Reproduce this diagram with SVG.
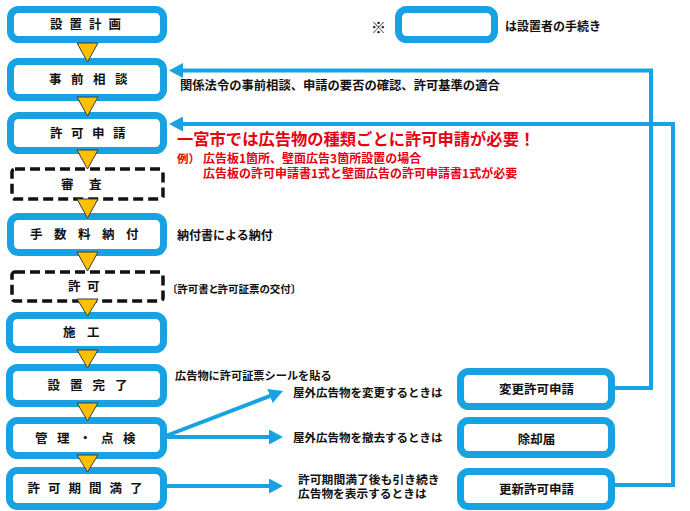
<svg xmlns="http://www.w3.org/2000/svg" width="690" height="511" viewBox="0 0 690 511">
<defs>
<style>
.box{fill:#fff;stroke:#17A2E3;stroke-width:7}
.dash{fill:#fff;stroke:#111;stroke-width:3.5;stroke-dasharray:10 5}
.tri{fill:#FFC000;stroke:#3a3a3a;stroke-width:1}
.ln{fill:none;stroke:#17A2E3;stroke-width:4}
.lbl{font-family:"Noto Sans CJK JP","Noto Sans",sans-serif;font-weight:bold;font-size:12.5px;fill:#111;text-anchor:middle}
.t{font-family:"Noto Sans CJK JP","Noto Sans",sans-serif;font-weight:bold;fill:#111}
.red{font-family:"Noto Sans CJK JP","Noto Sans",sans-serif;font-weight:bold;fill:#E60012}
.palt{font-feature-settings:"palt" 1}
</style>
<marker id="ah" markerUnits="userSpaceOnUse" markerWidth="14" markerHeight="15" refX="1" refY="7.5" orient="auto">
<path d="M0,0 L14,7.5 L0,15 z" fill="#17A2E3"/>
</marker>
</defs>

<g id="connectors">
<path class="ln" d="M612,388 H651 V70.5 H182" marker-end="url(#ah)"/>
<path class="ln" d="M612,485 H673 V124 H182" marker-end="url(#ah)"/>
<path class="ln" d="M163,437 L270.9,395.7" marker-end="url(#ah)"/>
<path class="ln" d="M163,437 H270" marker-end="url(#ah)"/>
<path class="ln" d="M163,486 H270" marker-end="url(#ah)"/>
</g>

<g id="legend">
<text class="t" x="371" y="33" font-size="15">※</text>
<rect class="box" x="398.5" y="9.5" width="96" height="30" rx="8"/>
<text class="t" x="505" y="30.5" font-size="12">は設置者の手続き</text>
</g>

<g id="n1"><rect class="box" x="10.5" y="9.5" width="153" height="30" rx="8"/><text class="lbl" x="89" y="29" letter-spacing="7">設置計画</text></g>
<g id="n2"><rect class="box" x="10.5" y="61.5" width="153" height="36" rx="8"/><text class="lbl" x="93" y="84" letter-spacing="9.5">事前相談</text></g>
<g id="n3"><rect class="box" x="10.5" y="115.5" width="153" height="35" rx="8"/><text class="lbl" x="92" y="137.5" letter-spacing="8.5">許可申請</text></g>
<g id="n4"><rect class="dash" x="12" y="169" width="151" height="30" rx="3"/><text class="lbl" x="89" y="188.5" letter-spacing="15.5">審査</text></g>
<g id="n5"><rect class="box" x="10.5" y="216.5" width="153" height="36" rx="8"/><text class="lbl" x="90" y="239" letter-spacing="11.5">手数料納付</text></g>
<g id="n6"><rect class="dash" x="12" y="272" width="151" height="29" rx="3"/><text class="lbl" x="87" y="291" letter-spacing="6.5">許可</text></g>
<g id="n7"><rect class="box" x="9.5" y="315.5" width="154" height="34" rx="8"/><text class="lbl" x="87" y="337" letter-spacing="11.5">施工</text></g>
<g id="n8"><rect class="box" x="9.5" y="367.5" width="154" height="36" rx="8"/><text class="lbl" x="92.5" y="390" letter-spacing="10">設置完了</text></g>
<g id="n9"><rect class="box" x="9.5" y="420.5" width="154" height="35" rx="8"/><text class="lbl" x="90" y="442.5" letter-spacing="9.5">管理・点検</text></g>
<g id="n10"><rect class="box" x="9.5" y="470.5" width="154" height="36" rx="8"/><text class="lbl" x="89" y="493" letter-spacing="8">許可期間満了</text></g>

<g id="arrows-down">
<polygon class="tri" points="77,43 98,43 87.5,62"/>
<polygon class="tri" points="77,97 98,97 87.5,116"/>
<polygon class="tri" points="77,150 98,150 87.5,169"/>
<polygon class="tri" points="77,199 98,199 87.5,218"/>
<polygon class="tri" points="77,252 98,252 87.5,271"/>
<polygon class="tri" points="77,299 98,299 87.5,316"/>
<polygon class="tri" points="77,350 98,350 87.5,368"/>
<polygon class="tri" points="77,403 98,403 87.5,421"/>
<polygon class="tri" points="77,455 98,455 87.5,472"/>
</g>

<g id="r1"><rect class="box" x="460.5" y="371.5" width="151" height="35" rx="8"/><text class="lbl" x="536.5" y="393.5" font-size="13">変更許可申請</text></g>
<g id="r2"><rect class="box" x="460.5" y="420.5" width="151" height="34" rx="8"/><text class="lbl" x="536.5" y="443.5" font-size="13">除却届</text></g>
<g id="r3"><rect class="box" x="460.5" y="471.5" width="151" height="35" rx="8"/><text class="lbl" x="536.5" y="493.5" font-size="13">更新許可申請</text></g>

<g id="notes">
<text class="t" x="180" y="90" font-size="12.3">関係法令の事前相談、申請の要否の確認、許可基準の適合</text>
<text class="red" x="177" y="145" font-size="16.3">一宮市では広告物の種類ごとに許可申請が必要！</text>
<text class="red" x="177" y="162.5" font-size="11.5">例）</text>
<text class="red" x="203" y="162.5" font-size="12">広告板1箇所、壁面広告3箇所設置の場合</text>
<text class="red" x="203" y="177.5" font-size="12">広告板の許可申請書1式と壁面広告の許可申請書1式が必要</text>
<text class="t" x="177" y="239.5" font-size="12">納付書による納付</text>
<text class="t palt" x="172" y="292.5" font-size="10.5">〔許可書と許可証票の交付〕</text>
<text class="t" x="175" y="379.5" font-size="11.2">広告物に許可証票シールを貼る</text>
<text class="t" x="293" y="397" font-size="11.5">屋外広告物を変更するときは</text>
<text class="t" x="293" y="442" font-size="11.5">屋外広告物を撤去するときは</text>
<text class="t" x="298" y="484" font-size="11.8">許可期間満了後も引き続き</text>
<text class="t" x="298" y="498" font-size="11.7">広告物を表示するときは</text>
</g>
</svg>
